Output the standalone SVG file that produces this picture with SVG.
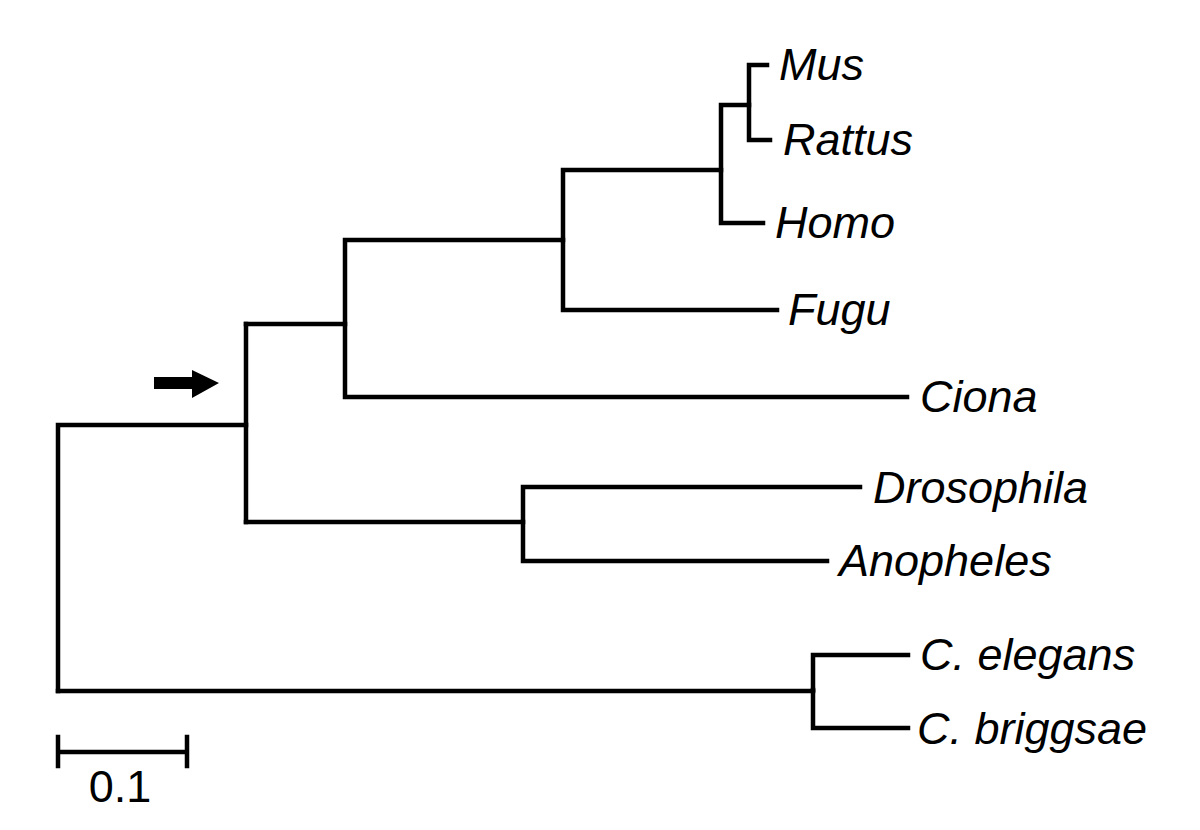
<svg xmlns="http://www.w3.org/2000/svg" width="1200" height="830" viewBox="0 0 1200 830">
<style>
.br{fill:none;stroke:#000;stroke-width:4.5;stroke-linecap:square;stroke-linejoin:miter}
.lb{font-family:"Liberation Sans",Arial,sans-serif;font-style:italic;font-size:45px;fill:#000}
.sc{font-family:"Liberation Sans",Arial,sans-serif;font-size:45px;fill:#000}
</style>
<rect width="1200" height="830" fill="#fff"/>
<g id="connectors">
<path class="br" d="M58,691 V425 H246"/>
<path class="br" d="M58,691 H813"/>
<path class="br" d="M246,324 V522"/>
<path class="br" d="M246,324 H345 V397 H907"/>
<path class="br" d="M345,324 V240 H563 V310 H777"/>
<path class="br" d="M563,240 V170 H721 V223 H763"/>
<path class="br" d="M721,170 V105 H749 V65 H767"/>
<path class="br" d="M749,105 V140 H770"/>
<path class="br" d="M246,522 H523 V487 H860"/>
<path class="br" d="M523,522 V561 H827"/>
<path class="br" d="M813,690 V655 H908"/>
<path class="br" d="M813,690 V728 H908"/>
</g>
<g id="arrow">
<polygon points="154,377 192,377 192,370 219,383 192,398 192,389 154,389" fill="#000"/>
</g>
<g id="scale">
<path class="br" d="M58,752 H187 M58,737 V766 M187,737 V766"/>
<text class="sc" x="120" y="802" text-anchor="middle">0.1</text>
</g>
<g id="n-mus"><text class="lb" x="779" y="80">Mus</text></g>
<g id="n-rattus"><text class="lb" x="783" y="155">Rattus</text></g>
<g id="n-homo"><text class="lb" x="775" y="238">Homo</text></g>
<g id="n-fugu"><text class="lb" x="788" y="325">Fugu</text></g>
<g id="n-ciona"><text class="lb" x="920" y="412">Ciona</text></g>
<g id="n-drosophila"><text class="lb" x="873" y="503">Drosophila</text></g>
<g id="n-anopheles"><text class="lb" x="839" y="576">Anopheles</text></g>
<g id="n-celegans"><text class="lb" x="920" y="670">C. elegans</text></g>
<g id="n-cbriggsae"><text class="lb" x="917" y="744">C. briggsae</text></g>
</svg>
